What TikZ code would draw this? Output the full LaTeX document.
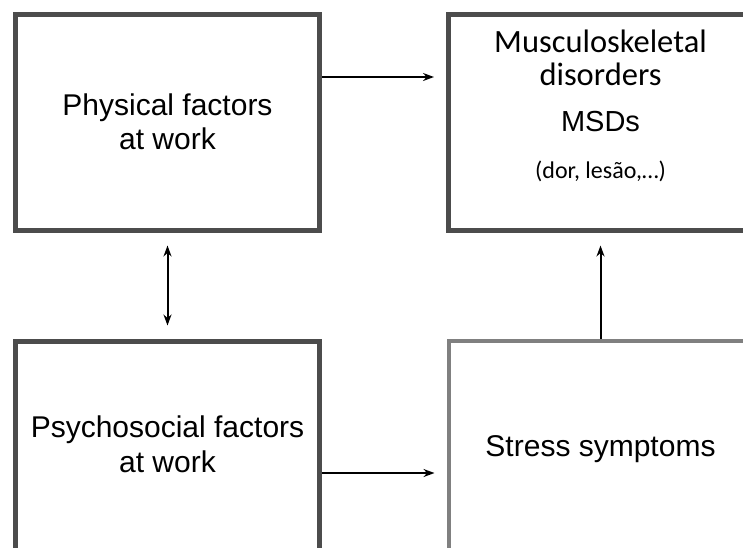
\documentclass[tikz,border=0pt]{standalone}
\usepackage{fontspec}
\setmainfont{Liberation Sans}
\newfontfamily\calibri{Carlito}
\usetikzlibrary{arrows.meta}

\tikzstyle{factor}=[rectangle, minimum width=304pt, minimum height=216pt, text centered, align=center, draw=black!70, line width=5pt, fill=white, font=\fontsize{30}{34}\selectfont]
\tikzstyle{arrow}=[line width=2pt, ->, >={Stealth[length=11pt,width=8pt]}]

\begin{document}
\begin{tikzpicture}[node distance=327pt]

\clip (0pt,0pt) rectangle (743pt,-547pt);
\fill[white] (0pt,0pt) rectangle (743pt,-547pt);

\node(phys)[factor] at (167.5pt,-122pt){Physical factors\\at work};
\node(msd)[factor, right of=phys, xshift=106pt, font=\calibri\fontsize{32.5}{33}\selectfont]{Musculoskeletal\\disorders\\[13pt]{\rmfamily\fontsize{29}{33}\selectfont MSDs}\\[14pt]{\fontsize{24}{33}\selectfont (dor, lesão,…)\rule[-36pt]{0pt}{1pt}}};
\node(psy)[factor, below of=phys, font=\fontsize{30}{35}\selectfont]{Psychosocial factors\\at work\rule[-10pt]{0pt}{1pt}};
\node(stress)[factor, below of=msd, draw=black!50, line width=4pt]{Stress symptoms};

\draw[arrow, shorten >=12pt]([yshift=45pt]phys.east)--([yshift=45pt]msd.west);
\draw[arrow, <->, shorten >=13pt, shorten <=13pt](phys)--(psy);
\draw[arrow, shorten >=12pt]([yshift=-24pt]psy.east)--([yshift=-24pt]stress.west);
\draw[arrow, shorten >=13pt](stress)--(msd);

\end{tikzpicture}
\end{document}
